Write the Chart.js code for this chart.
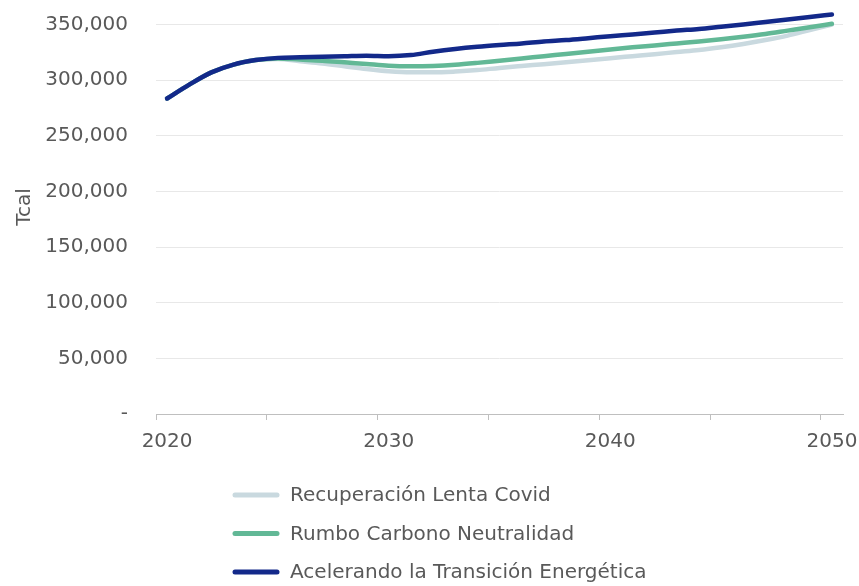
<!DOCTYPE html>
<html>
<head>
<meta charset="utf-8">
<script src="https://cdn.jsdelivr.net/npm/chart.js@4"></script>
<style>
  html, body { margin: 0; padding: 0; background: #fff; }
  canvas { display: block; }
</style>
</head>
<body>
<canvas id="demandChart" width="859" height="586"></canvas>
<script>
const years = [];
for (let y = 2020; y <= 2050; y++) years.push(String(y));

const seriesNames = [
  "Recuperación Lenta Covid",
  "Rumbo Carbono Neutralidad",
  "Acelerando la Transición Energética",
];

const yTicks = [0, 50000, 100000, 150000, 200000, 250000, 300000, 350000];

// Tcal
const recuperacion = [
  283500, 296000, 307000, 314000, 318000, 319000, 317000, 315000, 312500, 310000,
  308000, 307000, 307000, 307700, 309000, 311000, 312700, 314300, 316000, 317800,
  319700, 321500, 323300, 325200, 327000, 329500, 332500, 336000, 340000, 345000,
  350000,
];
const rumbo = [
  283500, 296000, 307000, 314000, 318000, 319500, 318500, 317500, 316000, 314500,
  313000, 312500, 312800, 313800, 315500, 317500, 319500, 321500, 323500, 325500,
  327500, 329500, 331200, 333000, 334800, 336800, 339000, 341500, 344500, 347500,
  350600,
];
const acelerando = [
  283500, 296000, 307000, 314000, 318000, 320000, 320500, 321000, 321500, 322000,
  321500, 322500, 325500, 328000, 330000, 331600, 333000, 334800, 336000, 337700,
  339500, 341000, 342700, 344500, 346000, 348000, 350000, 352300, 354500, 356800,
  359000,
];

const colors = ["#C9D9DF", "#62B896", "#13298A"];
const textColor = "#595959";
const font = { family: "DejaVu Sans", size: 20 };

// legend drawn as a stacked list under the axis
const listLegend = {
  id: "listLegend",
  afterDraw(chart) {
    const ctx = chart.ctx;
    ctx.save();
    ctx.font = "20px 'DejaVu Sans'";
    ctx.textBaseline = "middle";
    ctx.lineCap = "round";
    chart.data.datasets.forEach((ds, i) => {
      const y = 495 + i * 38.5;
      ctx.strokeStyle = ds.borderColor;
      ctx.lineWidth = 5;
      ctx.beginPath();
      ctx.moveTo(235, y);
      ctx.lineTo(277, y);
      ctx.stroke();
      ctx.fillStyle = textColor;
      ctx.fillText(ds.label, 290, y + 1);
    });
    ctx.restore();
  },
};

const datasets = [recuperacion, rumbo, acelerando].map((data, i) => ({
  label: seriesNames[i],
  data: data,
  borderColor: colors[i],
  backgroundColor: colors[i],
  borderWidth: 4.5,
  pointRadius: 0,
  cubicInterpolationMode: "monotone",
  borderCapStyle: "round",
  order: 2 - i,
}));

new Chart(document.getElementById("demandChart"), {
  type: "line",
  data: { labels: years, datasets: datasets },
  plugins: [listLegend],
  options: {
    responsive: false,
    animation: false,
    layout: { padding: { left: 0, right: 16, top: 0, bottom: 131 } },
    plugins: {
      legend: { display: false },
      tooltip: { enabled: false },
    },
    scales: {
      x: {
        offset: true,
        grid: {
          offset: true,
          drawOnChartArea: false,
          tickLength: 6,
          color: (c) => (c.index % 5 === 0 ? "#BFBFBF" : "rgba(0,0,0,0)"),
        },
        border: { display: true, color: "#BFBFBF", width: 1 },
        ticks: {
          autoSkip: false,
          maxRotation: 0,
          padding: 10,
          color: textColor,
          font: font,
          callback: function (val) {
            const yr = Number(this.getLabelForValue(val));
            return yr % 10 === 0 ? String(yr) : "";
          },
        },
        afterFit: (scale) => {
          scale.height = 41;
          scale.paddingLeft = 0;
          scale.paddingRight = 0;
        },
      },
      y: {
        min: 0,
        max: 372000,
        afterBuildTicks: (scale) => {
          scale.ticks = yTicks.map((v) => ({ value: v }));
        },
        grid: {
          color: "#E8E8E8",
          drawTicks: false,
          lineWidth: (c) => (c.tick && c.tick.value === 0 ? 0 : 1),
        },
        border: { display: false },
        ticks: {
          autoSkip: false,
          padding: 28,
          color: textColor,
          font: font,
          callback: (v) => (v === 0 ? "-" : v.toLocaleString("en-US")),
        },
        title: {
          display: true,
          text: "Tcal",
          color: textColor,
          font: font,
          padding: { top: 13, bottom: 0 },
        },
        afterFit: (scale) => {
          scale.width = 156;
          scale.paddingTop = 0;
          scale.paddingBottom = 0;
        },
      },
    },
  },
});
</script>
</body>
</html>
